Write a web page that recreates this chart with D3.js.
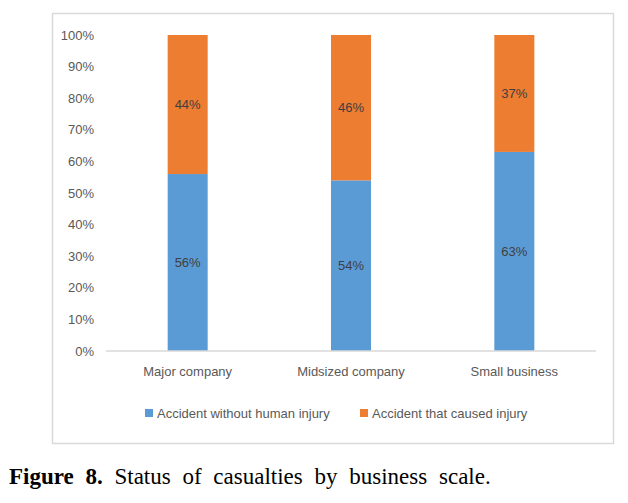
<!DOCTYPE html>
<html><head><meta charset="utf-8">
<script src="https://cdn.jsdelivr.net/npm/d3@7"></script>
<style>
body{margin:0;background:#fff;}
svg{display:block;}
</style></head>
<body>
<svg id="chart" width="628" height="503"></svg>
<script>
const categories = ["Major company", "Midsized company", "Small business"];
const seriesNames = ["Accident without human injury", "Accident that caused injury"];
const withoutInjury = [56, 54, 63];
const causedInjury = [44, 46, 37];
const yTicks = [0, 10, 20, 30, 40, 50, 60, 70, 80, 90, 100];
const colors = ["#5b9bd5", "#ed7d31"];

const svg = d3.select("#chart");
const font = "'Liberation Sans', Arial, sans-serif";

// outer chart border
svg.append("rect").attr("x", 52.5).attr("y", 13.5).attr("width", 561).attr("height", 430)
  .attr("fill", "#fff").attr("stroke", "#d9d9d9").attr("stroke-width", 1.5);

const x = d3.scaleBand().domain(categories).range([106, 596]).paddingInner(0.755).paddingOuter(0.3775);
const y = d3.scaleLinear().domain([0, 100]).range([351, 35]);

const data = categories.map((c, i) => ({cat: c, vals: [withoutInjury[i], causedInjury[i]]}));
const stack = d3.stack().keys([0, 1]).value((d, k) => d.vals[k]);
const series = stack(data);

const g = svg.append("g");
series.forEach((s, si) => {
  g.selectAll(null).data(s).enter().append("rect")
    .attr("x", d => x(d.data.cat))
    .attr("width", x.bandwidth())
    .attr("y", d => y(d[1]))
    .attr("height", d => y(d[0]) - y(d[1]))
    .attr("fill", colors[si]);
  g.selectAll(null).data(s).enter().append("text")
    .attr("x", d => x(d.data.cat) + x.bandwidth() / 2)
    .attr("y", d => (y(d[0]) + y(d[1])) / 2)
    .attr("dy", "0.35em")
    .attr("text-anchor", "middle")
    .attr("font-family", font).attr("font-size", 13).attr("fill", "#404040")
    .text(d => d.data.vals[si] + "%");
});

// y axis labels
const yAxis = d3.axisLeft(y).tickValues(yTicks).tickFormat(d => d + "%").tickSize(0).tickPadding(0);
const ya = svg.append("g").attr("transform", "translate(94,0)").call(yAxis);
ya.select(".domain").remove();
ya.selectAll("text").attr("font-family", font).attr("font-size", 13).attr("fill", "#595959");

// x axis
const xAxis = d3.axisBottom(x).tickSize(0).tickPadding(16);
const xa = svg.append("g").attr("transform", "translate(0,351)").call(xAxis);
xa.select(".domain").attr("stroke", "#d9d9d9").attr("stroke-width", 1.5).attr("d", "M106,0H596");
xa.selectAll("text").attr("font-family", font).attr("font-size", 13).attr("fill", "#595959");

// legend
const legendX = [145, 360];
seriesNames.forEach((n, i) => {
  svg.append("rect").attr("x", legendX[i]).attr("y", 409).attr("width", 8).attr("height", 8).attr("fill", colors[i]);
  svg.append("text").attr("x", legendX[i] + 12).attr("y", 413).attr("dy", "0.35em")
    .attr("font-family", font).attr("font-size", 13).attr("fill", "#595959").text(n);
});

// caption
const cap = svg.append("text").attr("x", 9).attr("y", 484)
  .attr("font-family", "'Liberation Serif', 'Times New Roman', serif").attr("font-size", 23).attr("fill", "#000")
  .attr("word-spacing", "6px");
cap.append("tspan").attr("font-weight", "bold").text("Figure 8.");
cap.append("tspan").text(" Status of casualties by business scale.");
</script>
</body></html>
